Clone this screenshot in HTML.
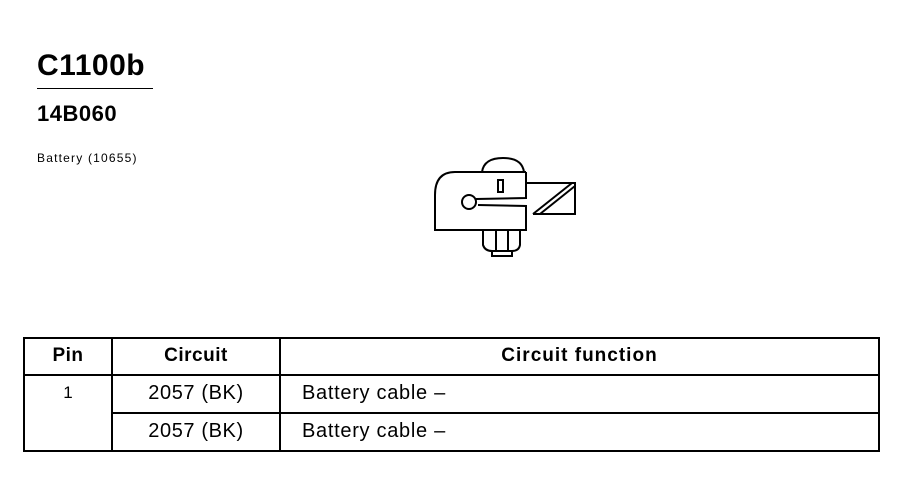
<!DOCTYPE html>
<html><head><style>
body{margin:0;width:906px;height:480px;background:#fff;font-family:"Liberation Sans",Arial,sans-serif;color:#000;position:relative;overflow:hidden}
.a{position:absolute}
</style></head><body>
<div class="a" style="left:37px;top:49px;font-size:30px;font-weight:bold;letter-spacing:0.5px">C1100b</div>
<div class="a" style="left:37px;top:88px;width:116px;border-top:1px solid #000"></div>
<div class="a" style="left:37px;top:101px;font-size:22px;font-weight:bold;letter-spacing:0.5px">14B060</div>
<div class="a" style="left:37px;top:151px;font-size:12px;letter-spacing:1.2px">Battery (10655)</div>
<svg class="a" style="left:0;top:0" width="906" height="480">
<g fill="none" stroke="#000" stroke-width="2">
<path d="M482,172 Q484,158 503,158 Q522,158 524,172"/>
<path d="M526,172 L455,172 Q435,172 435,195 L435,230 L526,230 L526,206 L478,205 M476,199 L526,198 L526,172"/>
<circle cx="469" cy="202" r="7"/>
<rect x="498" y="180" width="5" height="12"/>
<path d="M526,183 L575,183 L575,214 L533,214"/>
<path d="M533,214 L572,183 M540,214 L575,186"/>
<path d="M483,230 L483,245 Q485,251 492,251 L512,251 Q519,251 520,245 L520,230"/>
<path d="M492,251 L492,256 L512,256 L512,251 M496,230 L496,251 M508,230 L508,251"/>
</g>
<g stroke="#000" stroke-width="2" fill="none">
<rect x="24" y="338" width="855" height="113"/>
<line x1="24" y1="375" x2="879" y2="375"/>
<line x1="112" y1="413" x2="879" y2="413"/>
<line x1="112" y1="338" x2="112" y2="451"/>
<line x1="280" y1="338" x2="280" y2="451"/>
</g>
</svg>
<div class="a" style="left:24px;top:345px;width:88px;text-align:center;font-size:19px;font-weight:bold;letter-spacing:0.5px">Pin</div>
<div class="a" style="left:112px;top:345px;width:168px;text-align:center;font-size:19px;font-weight:bold;letter-spacing:0.5px">Circuit</div>
<div class="a" style="left:280px;top:345px;width:599px;text-align:center;font-size:19px;font-weight:bold;letter-spacing:1px">Circuit function</div>
<div class="a" style="left:24px;top:383px;width:88px;text-align:center;font-size:17px">1</div>
<div class="a" style="left:112px;top:382px;width:168px;text-align:center;font-size:20px;letter-spacing:0.6px">2057 (BK)</div>
<div class="a" style="left:302px;top:382px;font-size:20px;letter-spacing:0.7px">Battery cable –</div>
<div class="a" style="left:112px;top:420px;width:168px;text-align:center;font-size:20px;letter-spacing:0.6px">2057 (BK)</div>
<div class="a" style="left:302px;top:420px;font-size:20px;letter-spacing:0.7px">Battery cable –</div>
</body></html>
